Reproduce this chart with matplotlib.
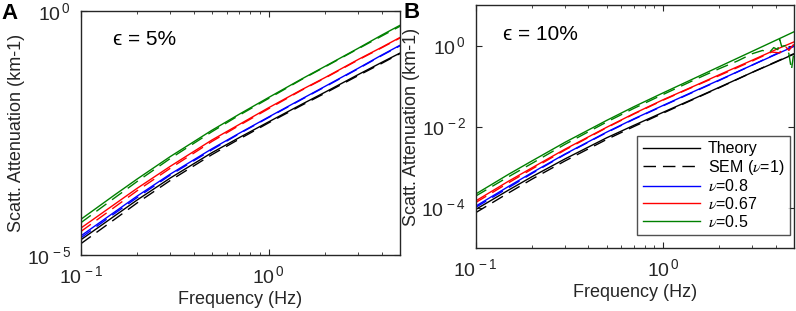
import matplotlib
matplotlib.use("Agg")
import matplotlib.pyplot as plt
import numpy as np

plt.rcParams['font.family'] = ['Liberation Sans', 'DejaVu Sans']
plt.rcParams['mathtext.fontset'] = 'stix'

# frequency grid (Hz) and log10 of scattering attenuation
freq = [0.1, 0.15, 0.2, 0.3, 0.5, 0.7, 1.0, 1.5, 2.0, 3.0, 4.0, 5.0]

# panel A, eps = 5%
a_black = [-4.69, -4.21, -3.87, -3.42, -2.90, -2.59, -2.27, -1.91, -1.66, -1.30, -1.05, -0.86]
a_black_sem = [-4.77, -4.28, -3.93, -3.47, -2.94, -2.62, -2.29, -1.93, -1.68, -1.32, -1.07, -0.87]
a_blue = [-4.61, -4.13, -3.79, -3.34, -2.82, -2.50, -2.17, -1.80, -1.54, -1.17, -0.90, -0.70]
a_blue_sem = [-4.65, -4.16, -3.82, -3.36, -2.84, -2.51, -2.18, -1.81, -1.55, -1.18, -0.91, -0.71]
a_red = [-4.45, -3.97, -3.63, -3.18, -2.64, -2.32, -1.98, -1.61, -1.36, -0.99, -0.74, -0.54]
a_red_sem = [-4.52, -4.03, -3.68, -3.22, -2.67, -2.34, -2.00, -1.62, -1.37, -1.00, -0.75, -0.55]
a_green = [-4.27, -3.78, -3.44, -2.98, -2.44, -2.11, -1.77, -1.39, -1.13, -0.76, -0.49, -0.29]
a_green_sem = [-4.34, -3.84, -3.49, -3.02, -2.47, -2.13, -1.79, -1.40, -1.14, -0.77, -0.51, -0.31]

# panel B, eps = 10%
b_black = [-4.05, -3.57, -3.24, -2.80, -2.28, -1.97, -1.65, -1.29, -1.03, -0.66, -0.41, -0.21]
b_black_sem = [-4.13, -3.64, -3.30, -2.85, -2.32, -2.00, -1.67, -1.30, -1.04, -0.66, -0.40, -0.20]
b_blue = [-3.97, -3.48, -3.14, -2.68, -2.14, -1.81, -1.48, -1.11, -0.85, -0.48, -0.22, -0.02]
b_blue_sem = [-4.00, -3.51, -3.16, -2.69, -2.15, -1.82, -1.49, -1.12, -0.86, -0.48, -0.21, 0.00]
b_red = [-3.84, -3.35, -3.02, -2.56, -2.02, -1.68, -1.34, -0.98, -0.72, -0.36, -0.10, 0.09]
b_red_sem_f = [0.1, 0.15, 0.2, 0.3, 0.5, 0.7, 1.0, 1.5, 2.0, 3.0, 3.8, 4.2, 4.5, 4.7, 5.0]
b_red_sem = [-3.88, -3.39, -3.05, -2.58, -2.03, -1.69, -1.35, -0.99, -0.74, -0.38, -0.16,
             -0.18, -0.02, -0.12, 0.04]
b_green = [-3.67, -3.18, -2.85, -2.39, -1.85, -1.51, -1.17, -0.79, -0.52, -0.14, 0.13, 0.34]
b_green_sem_f = [0.1, 0.15, 0.2, 0.3, 0.5, 0.7, 1.0, 1.5, 2.0, 2.5, 3.0, 3.4, 3.7, 3.9,
                 4.1, 4.2, 4.3, 4.5, 4.7, 4.85, 5.0]
b_green_sem = [-3.72, -3.24, -2.91, -2.44, -1.89, -1.55, -1.21, -0.83, -0.57, -0.38, -0.20,
               -0.12, -0.17, -0.05, -0.10, 0.15, -0.02, 0.00, -0.20, -0.60, -0.15]

col_green = '#008000'
col_red = '#ff0000'
col_blue = '#0000ff'
col_black = '#000000'
dash = (9, 5)

fig = plt.figure(figsize=(7.96, 3.11), dpi=100)
axA = fig.add_axes([0.1014, 0.180, 0.401, 0.784])
axB = fig.add_axes([0.5974, 0.2026, 0.400, 0.781])

f = np.array(freq)


def style(ax, yticks, ylim):
    ax.set_xscale('log')
    ax.set_yscale('log')
    ax.set_xlim(0.1, 5)
    ax.set_ylim(*ylim)
    ax.set_xticks([0.1, 1])
    ax.set_xticklabels([r'$\mathregular{10^{\,-1}}$', r'$\mathregular{10^{\,0}}$'])
    ax.set_xticks([k * 0.1 for k in range(2, 10)] + [2, 3, 4], minor=True)
    ax.set_yticks([10.0 ** e for e in yticks])
    ax.set_yticklabels([r'$\mathregular{10^{\,%d}}$' % e for e in yticks])
    ax.yaxis.set_minor_locator(matplotlib.ticker.NullLocator())
    ax.tick_params(which='both', direction='in', top=True, right=True,
                   labelsize=14, colors='#262626')
    ax.tick_params(which='major', length=4, pad=7)
    ax.tick_params(which='minor', length=2.5)
    ax.tick_params(axis='x', which='minor', labelbottom=False)
    for s in ax.spines.values():
        s.set_color('#262626')
        s.set_linewidth(1.0)
    ax.set_xlabel('Frequency (Hz)', fontsize=13, color='#262626', labelpad=3)
    ax.set_ylabel('Scatt. Attenuation (km-1)', fontsize=13, color='#262626', labelpad=1)


# panel A
axA.plot(f, 10 ** np.array(a_black), color=col_black, lw=1.0)
axA.plot(f, 10 ** np.array(a_black_sem), color=col_black, lw=1.0, dashes=dash)
axA.plot(f, 10 ** np.array(a_blue), color=col_blue, lw=1.0)
axA.plot(f, 10 ** np.array(a_blue_sem), color=col_blue, lw=1.0, dashes=dash)
axA.plot(f, 10 ** np.array(a_red), color=col_red, lw=1.0)
axA.plot(f, 10 ** np.array(a_red_sem), color=col_red, lw=1.0, dashes=dash)
axA.plot(f, 10 ** np.array(a_green), color=col_green, lw=1.0)
axA.plot(f, 10 ** np.array(a_green_sem), color=col_green, lw=1.0, dashes=dash)
style(axA, [-5, 0], (1e-5, 1))
axA.text(0.10, 0.885, '\u03f5 = 5%', transform=axA.transAxes, fontsize=15, va='center')

# panel B
axB.plot(f, 10 ** np.array(b_black), color=col_black, lw=1.0, label='Theory')
axB.plot(f, 10 ** np.array(b_black_sem), color=col_black, lw=1.0, dashes=dash,
         label=r'SEM ($\nu$=1)')
axB.plot(f, 10 ** np.array(b_blue), color=col_blue, lw=1.0, label=r'$\nu$=0.8')
axB.plot(f, 10 ** np.array(b_blue_sem), color=col_blue, lw=1.0, dashes=dash)
axB.plot(f, 10 ** np.array(b_red), color=col_red, lw=1.0, label=r'$\nu$=0.67')
axB.plot(b_red_sem_f, 10 ** np.array(b_red_sem), color=col_red, lw=1.0, dashes=dash)
axB.plot(f, 10 ** np.array(b_green), color=col_green, lw=1.0, label=r'$\nu$=0.5')
axB.plot(b_green_sem_f, 10 ** np.array(b_green_sem), color=col_green, lw=1.0, dashes=dash)
style(axB, [-4, -2, 0], (1e-5, 10))
axB.text(0.085, 0.88, '\u03f5 = 10%', transform=axB.transAxes, fontsize=15, va='center')

leg = axB.legend(loc='lower right', bbox_to_anchor=(0.987, 0.053), fontsize=11.5,
                 frameon=True, fancybox=False, handlelength=3.6, handletextpad=0.45,
                 labelspacing=0.1, borderpad=0.35, borderaxespad=0)
leg.get_frame().set_edgecolor('#262626')
leg.get_frame().set_linewidth(1.0)

fig.text(0.002, 0.99, 'A', fontsize=16, fontweight='bold', va='top', ha='left')
fig.text(0.507, 0.995, 'B', fontsize=16, fontweight='bold', va='top', ha='left')

fig.savefig('out.png', dpi=100)
